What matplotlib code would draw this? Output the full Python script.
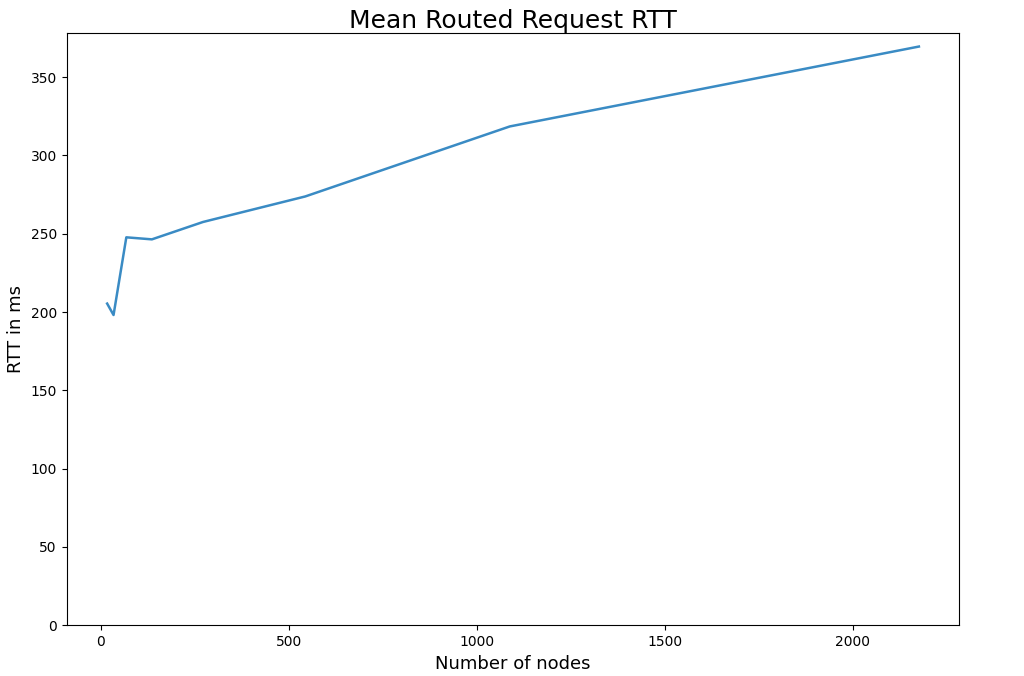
import matplotlib
matplotlib.use("Agg")
import matplotlib.pyplot as plt

# data
nodes = [17, 34, 68, 136, 272, 544, 1088, 2176]
rtt_ms = [205.4, 198.1, 247.7, 246.4, 257.5, 273.8, 318.5, 369.5]

fig, ax = plt.subplots(figsize=(10.24, 6.76), dpi=100)
ax.plot(nodes, rtt_ms, color="#3a8bc4", linewidth=1.8)

ax.set_ylim(bottom=0)
ax.set_title("Mean Routed Request RTT", fontsize=18, pad=4)
ax.set_xlabel("Number of nodes", fontsize=13)
ax.set_ylabel("RTT in ms", fontsize=13)

plt.subplots_adjust(left=0.065, right=0.937, top=0.951, bottom=0.075)
fig.savefig("out.png")
